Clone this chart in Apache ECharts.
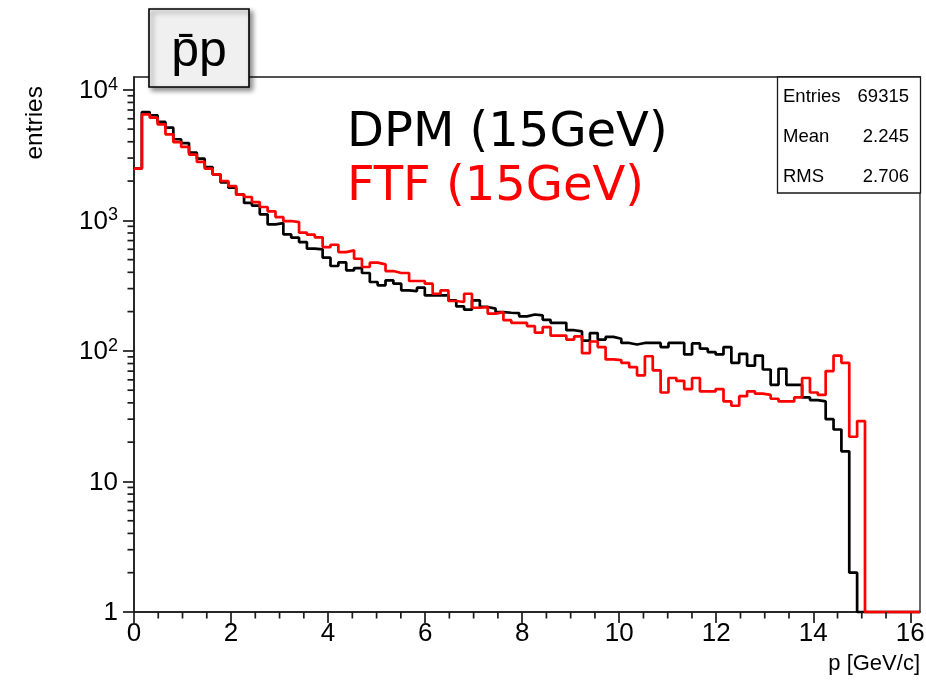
<!DOCTYPE html>
<html><head><meta charset="utf-8">
<script src="https://cdn.jsdelivr.net/npm/echarts@6/dist/echarts.min.js"></script>
<style>html,body{margin:0;padding:0;background:#fff}#c{width:926px;height:682px}</style>
</head><body><div id="c"></div>
<script>
// ---- data ----
const xMin = 0, xMax = 16.2, nBins = 100;
const dpmCounts = [2490,6760,6380,5670,5130,4180,3910,3300,2970,2560,
  2250,1955,1780,1575,1360,1297,1112,932,953,782,
  737,682,607,600,518,447,476,414,431,395,
  337,318,347,327,291,287,305,266,266,266,
  244,219,207,244,217,211,198,196,195,184,
  190,187,173,164,164,144,141,120,137,122,
  128,124,115,112,115,115,115,107,115,115,
  94,114,104,98,94,107,81,95,77,92,
  72,55,73,55,55,44,42,41,30,25,
  17,2,0,0,0,0,0,0,0,0];
const ftfCounts = [2490,6490,6120,5440,4560,3980,3650,3190,2800,2490,
  2250,2000,1830,1575,1510,1380,1265,1172,1060,988,
  970,805,777,741,624,650,571,589,508,439,
  474,460,409,395,395,343,343,327,274,291,
  241,237,274,214,217,193,198,172,164,164,
  155,138,152,131,131,122,129,96,118,107,
  86,85,81,75,65,91,71,48,62,59,
  51,62,49,49,51,41,38,45,49,47,
  46,43,41,41,44,62,48,46,70,92,
  81,22,29,0,0,0,0,0,0,0];
const xTickValues = [0,2,4,6,8,10,12,14,16];
const xTickLabels = ['0','2','4','6','8','10','12','14','16'];
const yTickDecades = [0,1,2,3,4];
const yTickBase = ['1','10','10','10','10'];
const yTickExp = ['','','2','3','4'];
const seriesNames = ['DPM (15GeV)','FTF (15GeV)'];
const seriesColors = ['#000000','#ff0000'];
const statsLabels = ['Entries','Mean','RMS'];
const statsValues = ['69315','2.245','2.706'];
const titleText = 'p\u0304p';
const xTitle = 'p [GeV/c]';
const yTitle = 'entries';
const yMaxLog = 4.098;

// ---- build ----
const binW = (xMax - xMin) / nBins;
function histPoints(counts){
  const pts = counts.map((c,i)=>[xMin + i*binW, Math.log10(Math.max(c,1))]);
  pts.push([xMax, Math.log10(Math.max(counts[counts.length-1],1))]);
  return pts;
}
const yMinor = [];
for (let n=0;n<4;n++) for (let k=2;k<=9;k++) yMinor.push(n+Math.log10(k));
const xMinor = [];
for (let i=1;i*0.5<xMax;i++){ if (i%4!==0) xMinor.push(i*0.5); }

const FONT = '"Liberation Sans", Arial, Helvetica, sans-serif';
const AXC = '#1a1a1a';
const chart = echarts.init(document.getElementById('c'), null, {renderer:'canvas'});
const grid = {left:134, right:6, top:77, bottom:70, show:true, borderColor:AXC, borderWidth:1.3, backgroundColor:'transparent', containLabel:false, outerBoundsMode:'none'};

const graphics = [
  // title pave
  {type:'rect', z:100, shape:{x:149, y:9, width:100, height:78},
    style:{fill:'#f0f0f0', stroke:'#000', lineWidth:1.6, shadowBlur:5, shadowOffsetX:3, shadowOffsetY:3, shadowColor:'rgba(0,0,0,0.45)'}},
  {type:'text', z:101, x:199, y:52, style:{text:titleText, font:'50px '+FONT, fill:'#000', align:'center', verticalAlign:'middle', textAlign:'center', textVerticalAlign:'middle'}},
  // legend texts
  {type:'text', z:101, x:347, y:133.4, style:{text:seriesNames[0], font:'48px "DejaVu Sans", Verdana, sans-serif', fill:seriesColors[0], align:'left', verticalAlign:'middle', textAlign:'left', textVerticalAlign:'middle'}},
  {type:'text', z:101, x:347, y:187.4, style:{text:seriesNames[1], font:'48px "DejaVu Sans", Verdana, sans-serif', fill:seriesColors[1], align:'left', verticalAlign:'middle', textAlign:'left', textVerticalAlign:'middle'}},
  // stats box
  {type:'rect', z:100, shape:{x:777.5, y:77, width:143, height:116}, style:{fill:'#fff', stroke:AXC, lineWidth:1.3}},
  ...statsLabels.map((t,i)=>({type:'text', z:101, x:783, y:96.9+40*i, style:{text:t, font:'18.5px '+FONT, fill:'#000', align:'left', verticalAlign:'middle', textAlign:'left', textVerticalAlign:'middle'}})),
  ...statsValues.map((t,i)=>({type:'text', z:101, x:909, y:96.9+40*i, style:{text:t, font:'18.5px '+FONT, fill:'#000', align:'right', verticalAlign:'middle', textAlign:'right', textVerticalAlign:'middle'}})),
  // axis titles
  {type:'text', z:101, x:920, y:664, style:{text:xTitle, font:'22px '+FONT, fill:'#000', align:'right', verticalAlign:'middle', textAlign:'right', textVerticalAlign:'middle'}},
  {type:'text', z:101, x:35, y:86, rotation:Math.PI/2, style:{text:yTitle, font:'24.5px '+FONT, fill:'#000', align:'right', verticalAlign:'middle', textAlign:'right', textVerticalAlign:'middle'}}
];

chart.setOption({
  animation:false,
  backgroundColor:'#fff',
  grid: grid,
  xAxis:{
    type:'value', min:xMin, max:xMax, interval:2, splitLine:{show:false},
    axisLine:{show:true, lineStyle:{color:AXC, width:1.6}},
    axisTick:{show:true, length:11, inside:false, customValues:xTickValues, lineStyle:{color:AXC, width:1.7}},
    axisLabel:{show:true, margin:9, customValues:xTickValues, color:'#000', fontFamily:FONT, fontSize:26,
      formatter:(v)=>{const i=xTickValues.indexOf(Math.round(v)); return i>=0?xTickLabels[i]:'';}}
  },
  yAxis:{
    type:'value', min:0, max:yMaxLog, interval:1, splitLine:{show:false},
    axisLine:{show:true, lineStyle:{color:AXC, width:1.6}},
    axisTick:{show:true, length:11, inside:false, customValues:yTickDecades, lineStyle:{color:AXC, width:1.7}},
    axisLabel:{show:true, margin:16, customValues:yTickDecades, color:'#000',
      formatter:(v)=>{const i=Math.round(v); return yTickExp[i] ? '{b|'+yTickBase[i]+'}{s|'+yTickExp[i]+'}' : '{b|'+yTickBase[i]+'}';},
      rich:{
        b:{fontFamily:FONT, fontSize:26, lineHeight:28, color:'#000', verticalAlign:'bottom'},
        s:{fontFamily:FONT, fontSize:18, lineHeight:18, color:'#000', verticalAlign:'top'}
      }}
  },
  series:[0,1].map(si=>({
    name:seriesNames[si], type:'line', step:'end', symbol:'none', clip:false,
    z:2+si,
    lineStyle:{color:seriesColors[si], width:2.7},
    data: histPoints(si===0?dpmCounts:ftfCounts)
  })),
  graphic: graphics
});

// minor ticks, positioned through the chart's own coordinate system
const MINOR = 6.5;
const tickEls = [];
xMinor.forEach(v=>{
  const p = chart.convertToPixel({gridIndex:0}, [v, 0]);
  tickEls.push({type:'line', z:50, silent:true, shape:{x1:p[0], y1:p[1], x2:p[0], y2:p[1]+MINOR}, style:{stroke:AXC, lineWidth:1.7}});
});
yMinor.forEach(v=>{
  const p = chart.convertToPixel({gridIndex:0}, [xMin, v]);
  tickEls.push({type:'line', z:50, silent:true, shape:{x1:p[0]-MINOR, y1:p[1], x2:p[0], y2:p[1]}, style:{stroke:AXC, lineWidth:1.7}});
});
chart.setOption({graphic: graphics.concat(tickEls)});
</script>
</body></html>
